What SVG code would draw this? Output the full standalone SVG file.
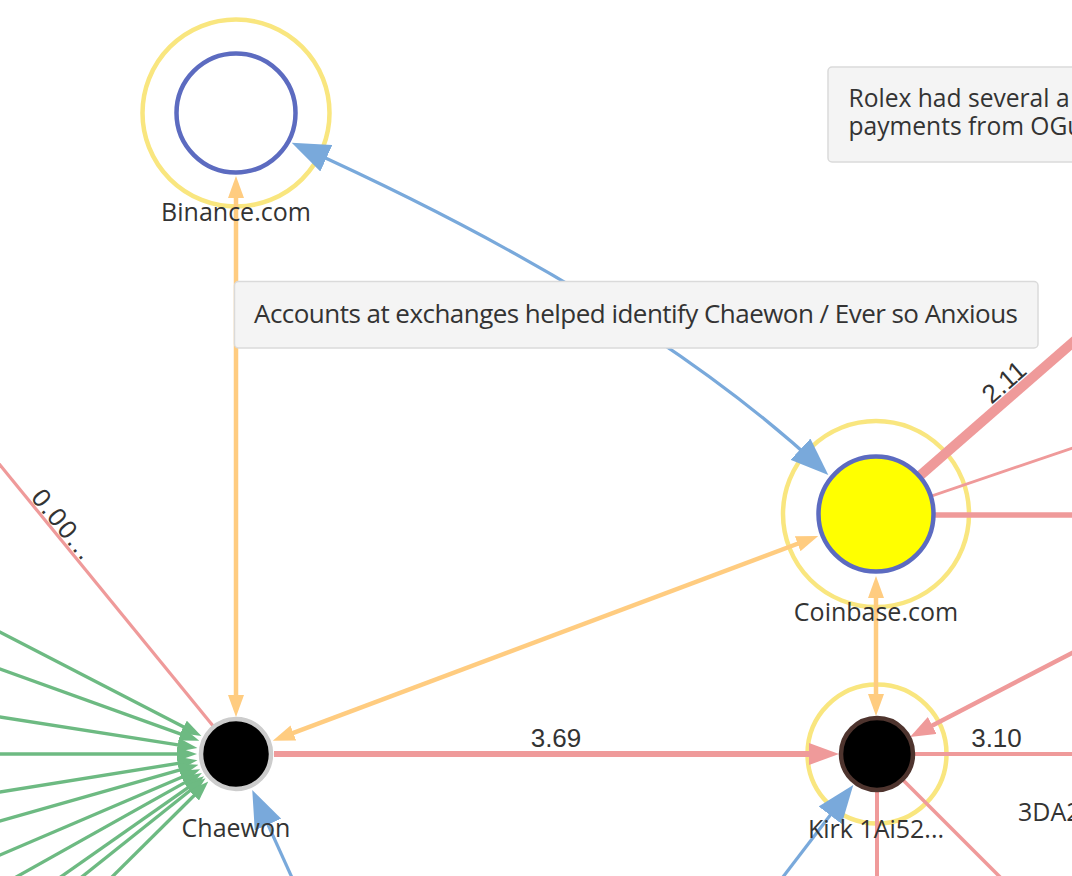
<svg xmlns="http://www.w3.org/2000/svg" width="1072" height="876" viewBox="0 0 1072 876">
<style>
.halo{fill:none;stroke:#f9e67f;stroke-width:4.5}
.lbl{font-family:"Open Sans","Noto Sans",sans-serif;font-size:25px;fill:#333;text-anchor:middle}
.elbl{font-family:"Liberation Sans",Arial,sans-serif;font-size:26px;fill:#333;text-anchor:middle}
.red{stroke:#ef9a9a;fill:none}
.green{stroke:#6dba82;stroke-width:3.3;fill:none;marker-end:url(#ag)}
.orange{stroke:#ffcc80;stroke-width:4.5;fill:none;marker-start:url(#ao);marker-end:url(#ao)}
.blue{stroke:#79a9db;stroke-width:3.2;fill:none}
.note rect{fill:#f4f4f4;stroke:#dadada;stroke-width:1.5}
.note text{font-family:"Open Sans","Noto Sans",sans-serif;font-size:25px;fill:#333}
</style>
<defs>
<marker id="ab" markerUnits="userSpaceOnUse" markerWidth="38" markerHeight="29" viewBox="0 0 38 29" refX="28" refY="14.5" orient="auto-start-reverse"><path d="M0,0L38,14.5L0,29z" fill="#79a9db"/></marker>
<marker id="ao" markerUnits="userSpaceOnUse" markerWidth="22" markerHeight="16" viewBox="0 0 22 16" refX="12" refY="8" orient="auto-start-reverse"><path d="M0,0L22,8L0,16z" fill="#ffcc80"/></marker>
<marker id="ag" markerUnits="userSpaceOnUse" markerWidth="20" markerHeight="14" viewBox="0 0 20 14" refX="10" refY="7" orient="auto-start-reverse"><path d="M0,0L20,7L0,14z" fill="#6dba82"/></marker>
<marker id="ar" markerUnits="userSpaceOnUse" markerWidth="30" markerHeight="22" viewBox="0 0 30 22" refX="20" refY="11" orient="auto-start-reverse"><path d="M0,0L30,11L0,22z" fill="#ef9a9a"/></marker>
<marker id="ar2" markerUnits="userSpaceOnUse" markerWidth="25" markerHeight="19" viewBox="0 0 25 19" refX="15" refY="9.5" orient="auto-start-reverse"><path d="M0,0L25,9.5L0,19z" fill="#ef9a9a"/></marker>
</defs>
<rect width="1072" height="876" fill="#fff"/>
<g id="halos">
  <circle id="halo-binance" class="halo" cx="236" cy="113" r="93.5"/>
  <circle id="halo-coinbase" class="halo" cx="876" cy="514" r="93"/>
  <circle id="halo-kirk" class="halo" cx="877" cy="754" r="69.5"/>
</g>
<g id="connectors">
  <path class="green" d="M-20,621.7L192.5,731.5"/>
  <path class="green" d="M-20,661.8L189.9,737.4"/>
  <path class="green" d="M-20,713.9L187.6,746.4"/>
  <path class="green" d="M-20,754L187,754"/>
  <path class="green" d="M-20,795.2L187.6,761.8"/>
  <path class="green" d="M-20,826.7L188.9,767.4"/>
  <path class="green" d="M-20,863.6L191,773.3"/>
  <path class="green" d="M-17.7,896L193.2,777.9"/>
  <path class="green" d="M33.5,896L195.9,782.1"/>
  <path class="green" d="M57.9,896L197.7,784.5"/>
  <path class="green" d="M92.8,896L201.2,788.5"/>
  <path class="red" stroke-width="3.2" d="M-10,452.8L236,754"/>
  <path class="red" stroke-width="6" d="M274,754L829,754" marker-end="url(#ar)"/>
  <path class="red" stroke-width="4" d="M877,754L1100,754"/>
  <path class="red" stroke-width="4.5" d="M1090,643.7L918.9,732.4" marker-end="url(#ar2)"/>
  <path class="red" stroke-width="4" d="M877,754L877,890"/>
  <path class="red" stroke-width="3.5" d="M877,754L1013,890"/>
  <path class="red" stroke-width="10" d="M876,514L1100,318.6"/>
  <path class="red" stroke-width="2.8" d="M876,515L1100,438.6"/>
  <path class="red" stroke-width="5.5" d="M876,515L1100,515"/>
  <path class="orange" d="M236,186L236,707"/>
  <path class="orange" d="M282.1,737.2L808.9,539.5"/>
  <path class="orange" d="M876,586L876,706"/>
  <path class="blue" d="M300.8,146.8Q640,300 821,468.2" marker-start="url(#ab)" marker-end="url(#ab)"/>
  <path class="blue" d="M297.6,890L256.4,799.1" marker-end="url(#ab)"/>
  <path class="blue" d="M773,890L847.2,793" marker-end="url(#ab)"/>
  <text class="elbl" x="556" y="747">3.69</text>
  <text class="elbl" x="996.5" y="747">3.10</text>
  <text class="elbl" transform="translate(1004,382) rotate(-41)" y="9">2.11</text>
  <text class="elbl" transform="translate(63,524) rotate(50.7)" y="9" textLength="82">0.00...</text>
</g>
<g id="node-binance">
  <circle cx="236" cy="113" r="59.5" fill="#fff" stroke="#5c6bc0" stroke-width="4.5"/>
  <text class="lbl" x="236" y="221">Binance.com</text>
</g>
<g id="node-coinbase">
  <circle cx="876" cy="514" r="57.5" fill="#ffff00" stroke="#5c6bc0" stroke-width="4.5"/>
  <text class="lbl" x="876" y="621">Coinbase.com</text>
</g>
<g id="node-chaewon">
  <circle cx="236" cy="754" r="35" fill="#000" stroke="#cccccc" stroke-width="4.5"/>
  <text class="lbl" x="236" y="837">Chaewon</text>
</g>
<g id="node-kirk">
  <circle cx="877" cy="754" r="36" fill="#000" stroke="#4e342e" stroke-width="4.5"/>
  <text class="lbl" x="876" y="838">Kirk 1Ai52...</text>
</g>
<g id="node-3da2">
  <text class="lbl" x="1018" y="821" style="text-anchor:start">3DA2</text>
</g>
<g id="note-exchanges" class="note">
  <rect x="234.5" y="281.5" width="803.5" height="66.5" rx="4"/>
  <text x="254" y="322.5" style="font-size:26px" textLength="764">Accounts at exchanges helped identify Chaewon / Ever so Anxious</text>
</g>
<g id="note-rolex" class="note">
  <rect x="828" y="67" width="280" height="95" rx="4"/>
  <text x="848.5" y="106.5" style="font-size:24.6px">Rolex had several a</text>
  <text x="848.5" y="134.5" style="font-size:24.6px">payments from OGu</text>
</g>
</svg>
